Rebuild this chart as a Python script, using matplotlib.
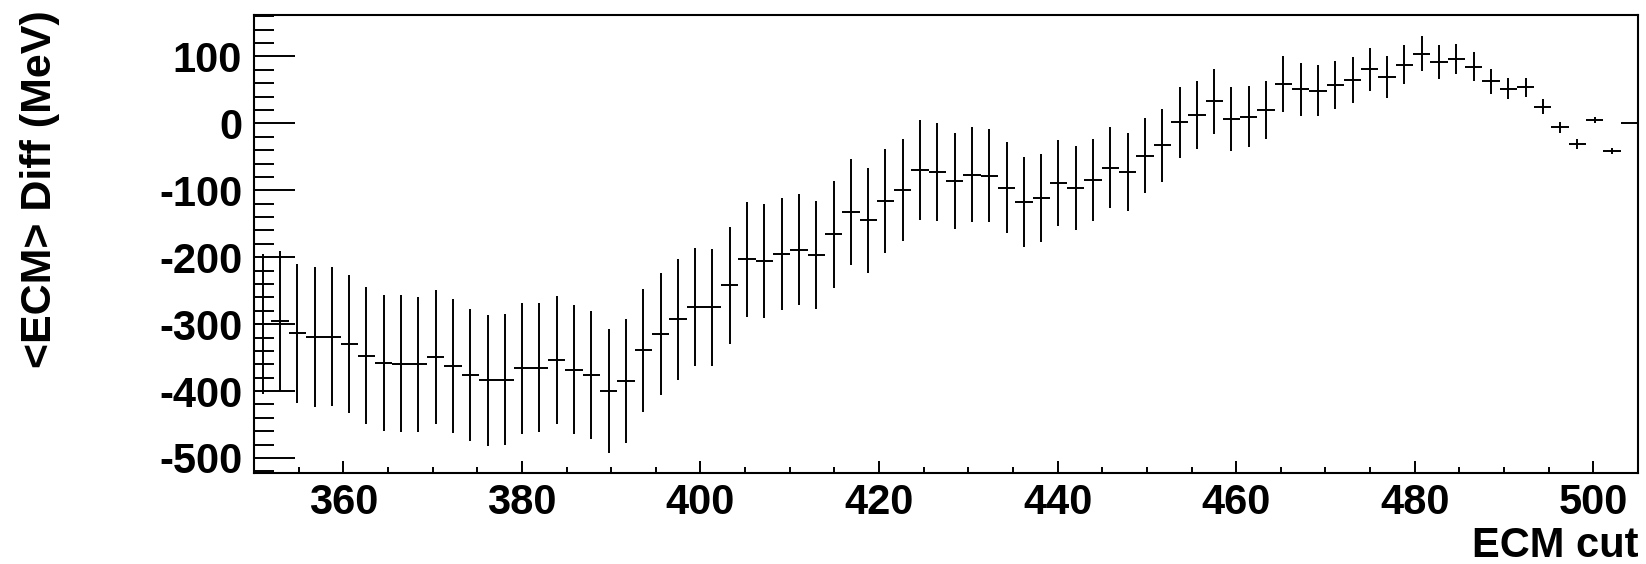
import numpy as np
import matplotlib
matplotlib.use("Agg")
import matplotlib.pyplot as plt
from matplotlib.ticker import MultipleLocator

plt.rcParams['axes.unicode_minus'] = False

# Histogram binning (ROOT profile): 80 bins from 350 to 505
nbins = 80
x_low, x_high = 350.0, 505.0

mean_diff = [-300, -295, -314, -319, -319, -330, -347, -358, -359, -360,
             -349, -363, -376, -384, -383, -366, -365, -354, -368, -376,
             -400, -385, -339, -315, -293, -274, -275, -242, -203, -206,
             -195, -189, -197, -166, -132, -145, -116, -100, -70, -73,
             -86, -77, -78, -96, -117, -111, -89, -97, -85, -66,
             -73, -48, -33, 2, 13, 33, 7, 10, 20, 59,
             51, 49, 57, 65, 81, 69, 88, 104, 92, 96,
             85, 63, 52, 54, 25, -6, -31, 5, -41, 0]
mean_err = [105, 105, 104, 105, 104, 103, 103, 102, 102, 101,
            100, 100, 99, 98, 98, 98, 96, 96, 96, 95,
            93, 93, 92, 91, 90, 88, 88, 87, 86, 85,
            84, 83, 81, 80, 79, 78, 77, 76, 75, 73,
            72, 71, 70, 68, 67, 66, 64, 63, 61, 60,
            58, 56, 55, 53, 51, 49, 48, 46, 44, 42,
            40, 38, 36, 34, 32, 31, 29, 26, 25, 22,
            21, 19, 16, 14, 11, 8.5, 7, 5, 4, 0]

x_label = "ECM cut"
y_label = "<ECM> Diff (MeV)"

edges = np.linspace(x_low, x_high, nbins + 1)
centers = 0.5 * (edges[:-1] + edges[1:])
half_w = 0.5 * (edges[1:] - edges[:-1])

W, H = 1646, 564
fig = plt.figure(figsize=(W / 100, H / 100), dpi=100)
ax = fig.add_axes([254 / W, 1 - 473 / H, (1638 - 254) / W, (473 - 15) / H])

ax.errorbar(centers, mean_diff, xerr=half_w, yerr=mean_err, fmt='none',
            ecolor='black', elinewidth=1.4, capsize=0)

ax.set_xlim(x_low, x_high)
ax.set_ylim(-522.5, 162)

font = dict(family=['Liberation Sans', 'DejaVu Sans'], weight='bold')
ax.xaxis.set_major_locator(MultipleLocator(20))
ax.xaxis.set_minor_locator(MultipleLocator(5))
ax.yaxis.set_major_locator(MultipleLocator(100))
ax.yaxis.set_minor_locator(MultipleLocator(20))

ax.tick_params(axis='x', which='major', direction='in', length=9, width=1.4,
               top=False, pad=7)
ax.tick_params(axis='x', which='minor', direction='in', length=4, width=1.4, top=False)
ax.tick_params(axis='y', which='major', direction='in', length=29.5, width=1.4,
               right=False, pad=8.5)
ax.tick_params(axis='y', which='minor', direction='in', length=14.5, width=1.4, right=False)

for lab in ax.get_xticklabels() + ax.get_yticklabels():
    lab.set_fontfamily(font['family'])
    lab.set_fontweight('bold')
    lab.set_fontsize(30)

for sp in ax.spines.values():
    sp.set_linewidth(1.5)

fig.text(1639 / W, 1 - 557 / H, x_label, ha='right', va='baseline',
         fontsize=30, **font)
fig.text(40 / W, 1 - 10 / H, y_label, ha='center', va='top', rotation=90,
         fontsize=31, **font)

fig.savefig("out.png", dpi=100)
